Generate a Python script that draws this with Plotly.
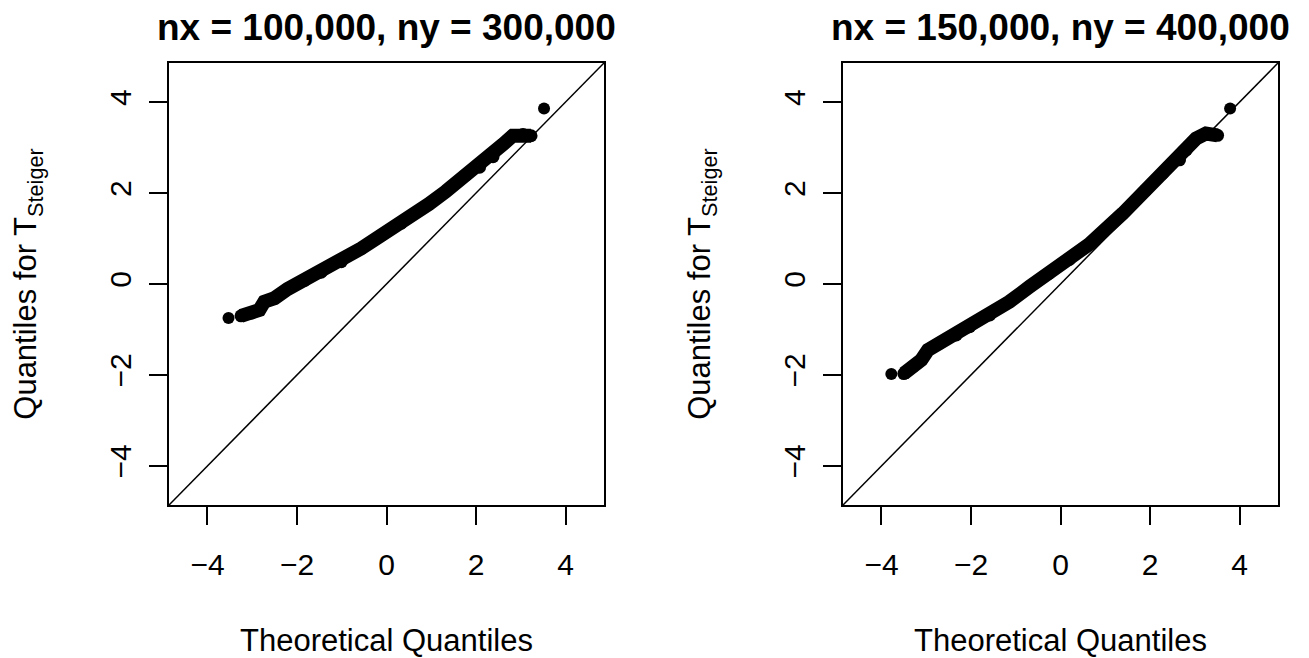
import plotly.graph_objects as go

# ---------------- data ----------------
AX_RANGE = [-4.86, 4.86]
TICKS = [-4, -2, 0, 2, 4]
TITLES = ["nx = 100,000, ny = 300,000", "nx = 150,000, ny = 400,000"]
X_LABEL = "Theoretical Quantiles"
Y_LABEL = "Quantiles for T<sub>Steiger</sub>"

# panel 1 : dense part of the Q-Q cloud and the separated extreme points
p1_band_x = [-3.25, -3.02, -2.84, -2.73, -2.50, -2.21, -1.83, -1.46, -1.01, -0.57,
             -0.12, 0.33, 0.95, 1.33, 1.78, 2.08, 2.38, 2.60, 2.82, 3.05, 3.23]
p1_band_y = [-0.70, -0.64, -0.57, -0.39, -0.31, -0.11, 0.08, 0.26, 0.49, 0.78,
             1.07, 1.34, 1.76, 2.04, 2.40, 2.57, 2.80, 3.07, 3.26, 3.29, 3.26]
p1_ext_x = [-3.53, 3.52]
p1_ext_y = [-0.75, 3.86]

# panel 2
p2_band_x = [-3.50, -3.30, -3.11, -2.96, -2.70, -2.33, -2.03, -1.58, -1.14, -0.69,
             -0.25, 0.20, 0.65, 1.39, 1.91, 2.28, 2.66, 2.81, 3.03, 3.25, 3.51]
p2_band_y = [-1.97, -1.82, -1.67, -1.45, -1.30, -1.12, -0.94, -0.68, -0.39, -0.06,
             0.24, 0.54, 0.88, 1.55, 2.07, 2.43, 2.73, 2.95, 3.20, 3.31, 3.27]
p2_ext_x = [-3.78, 3.79]
p2_ext_y = [-1.98, 3.86]

# ---------------- figure ----------------
W, H = 1309, 658
FONT = "Liberation Sans, Arial, Helvetica, sans-serif"
PT = 12  # point diameter

fig = go.Figure()

panels = [
    (p1_band_x, p1_band_y, p1_ext_x, p1_ext_y, "x", "y"),
    (p2_band_x, p2_band_y, p2_ext_x, p2_ext_y, "x2", "y2"),
]
for bx, by, ex, ey, xa, ya in panels:
    # reference line y = x across the whole axis range
    fig.add_trace(go.Scatter(x=AX_RANGE, y=AX_RANGE, mode="lines",
                             line=dict(color="black", width=1.5),
                             xaxis=xa, yaxis=ya, hoverinfo="skip"))
    fig.add_trace(go.Scatter(x=bx, y=by, mode="lines+markers",
                             line=dict(color="black", width=PT + 2),
                             marker=dict(color="black", size=PT + 1),
                             xaxis=xa, yaxis=ya))
    fig.add_trace(go.Scatter(x=ex, y=ey, mode="markers",
                             marker=dict(color="black", size=PT),
                             xaxis=xa, yaxis=ya))

x_domains = [[169 / W, 604 / W], [843 / W, 1278 / W]]
y_domain = [1 - 505 / H, 1 - 63 / H]

axis_common = dict(range=AX_RANGE, tickvals=TICKS, showgrid=False, zeroline=False,
                   showline=True, mirror=True, linecolor="black", linewidth=1.5,
                   ticks="outside", ticklen=18, tickwidth=1.5, tickcolor="black",
                   tickfont=dict(family=FONT, size=30, color="black"))

layout = dict(width=W, height=H, margin=dict(l=0, r=0, t=0, b=0),
              paper_bgcolor="white", plot_bgcolor="white", showlegend=False,
              font=dict(family=FONT, color="black"))

for i, (xd, xa, ya) in enumerate(zip(x_domains, ["xaxis", "xaxis2"], ["yaxis", "yaxis2"])):
    xn = "x" if i == 0 else "x2"
    yn = "y" if i == 0 else "y2"
    layout[xa] = dict(axis_common, domain=xd, anchor=yn,
                      ticklabelstandoff=14,
                      title=dict(text=X_LABEL, font=dict(family=FONT, size=31), standoff=52))
    layout[ya] = dict(axis_common, domain=y_domain, anchor=xn, tickangle=-90,
                      ticklabelstandoff=6,
                      title=dict(text=Y_LABEL, font=dict(family=FONT, size=31), standoff=58))

fig.update_layout(**layout)

for i, t in enumerate(TITLES):
    xd = x_domains[i]
    fig.add_annotation(text="<b>" + t + "</b>", x=(xd[0] + xd[1]) / 2, y=1 - 27 / H,
                       xref="paper", yref="paper", showarrow=False,
                       xanchor="center", yanchor="middle",
                       font=dict(family=FONT, size=37, color="black"))

fig.write_html("out.html")
